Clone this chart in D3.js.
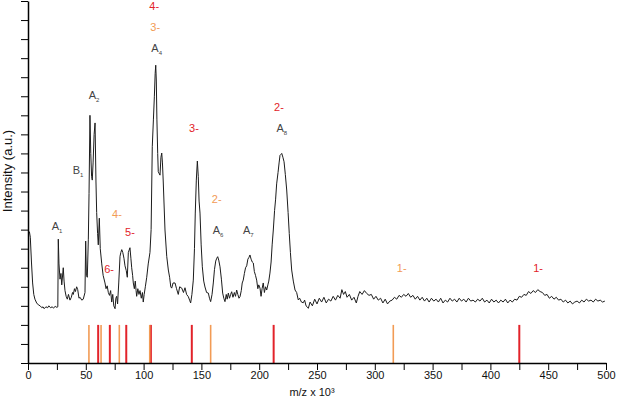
<!DOCTYPE html>
<html>
<head>
<meta charset="utf-8">
<script src="https://cdn.jsdelivr.net/npm/d3@7"></script>
<style>
  body { margin: 0; background: #fff; }
  svg { display: block; font-family: "Liberation Sans", Arial, sans-serif; }
  .axis path, .axis line { stroke: #000; }
  .axis text { font-size: 11px; fill: #111; font-family: "Liberation Sans", Arial, sans-serif; }
</style>
</head>
<body>
<svg id="chart"></svg>
<script>
// spectrum, [m/z x 10^3, intensity in tick units]
var spectrum = [
  [1.2, 6.9], [2.0, 6.6], [3.0, 5.3], [4.0, 4.2], [5.0, 3.6], [6.0, 3.35], [7.5, 3.15], [9.0, 3.05],
  [10.5, 3.0], [12, 2.9], [13, 2.95], [14, 2.85], [15.5, 2.95], [17, 2.9], [18, 3.0], [19.5, 2.9],
  [21, 2.95], [22, 2.88], [23.5, 2.97], [25, 2.92], [25.8, 2.95],
  [26.2, 6.5], [26.8, 5.2], [27.7, 4.4], [28.5, 4.7], [29.2, 4.1], [30.5, 5.0], [31.2, 4.3], [32.0, 3.8],
  [33.0, 3.5], [34, 3.35], [35, 3.6], [36.3, 3.3], [37.5, 3.45], [38.5, 3.7], [39.2, 3.6], [40.2, 3.9],
  [41, 3.75], [42.1, 4.0], [43, 3.85], [44.1, 3.4], [45, 3.45], [46.5, 3.3], [47.8, 3.35], [49.3, 3.7],
  [49.9, 6.4], [50.5, 4.6], [51.3, 4.5], [52.2, 6.5], [52.8, 8.9], [53.6, 13.0], [54.3, 11.0], [55.0, 9.8],
  [55.6, 9.6], [56.3, 10.5], [57.2, 12.0], [58.0, 12.6], [58.8, 9.5], [59.4, 7.9], [60.2, 6.8], [60.8, 6.2],
  [61.7, 7.6], [62.5, 6.0], [63.8, 5.2], [65, 4.6], [66.6, 4.2], [67.5, 3.9], [68.5, 4.05], [69.5, 3.7],
  [70.5, 3.55], [71.5, 3.8], [72.4, 3.2], [73.3, 3.6], [74.2, 3.0], [75.3, 2.85], [76.0, 3.4], [76.7, 3.5],
  [77.5, 3.1], [78.5, 4.2], [79.6, 5.6], [80.3, 5.8], [81.1, 5.95], [82, 5.8], [83.0, 5.5], [83.9, 5.1],
  [85.0, 4.85], [85.9, 4.5], [86.8, 5.8], [88.2, 6.05], [89.0, 5.5], [89.7, 5.0], [90.5, 4.6], [91.1, 4.2],
  [92, 3.9], [92.8, 4.3], [93.5, 3.8], [94.0, 3.5], [95, 3.9], [96, 3.6], [96.9, 3.8], [98, 3.4],
  [99, 3.7], [99.7, 3.2], [100.5, 3.6], [101.5, 4.0], [102.7, 4.5], [104, 5.2], [105.5, 5.8], [106.5, 7.0],
  [107.5, 11.35], [108.5, 12.8], [109.3, 13.97], [110.0, 15.2], [110.5, 15.63], [111.0, 14.8], [111.5, 12.8],
  [112.2, 11.0], [112.7, 10.04], [114.2, 9.86], [115.0, 10.8], [115.7, 11.02], [116.3, 10.5], [117.0, 9.5],
  [118.5, 6.98], [120, 5.6], [121.4, 4.88], [122.5, 4.5], [123.5, 4.0], [124.3, 3.93], [125.5, 4.2],
  [127.2, 4.2], [128.5, 3.9], [130.0, 3.6], [131.2, 4.0], [133.0, 3.93], [134.5, 3.7], [135.8, 3.95],
  [137.2, 3.6], [138.7, 3.48], [139.8, 3.3], [140.7, 3.15], [141.8, 3.6], [143.0, 4.35], [144.0, 6.0],
  [144.7, 7.87], [145.6, 9.6], [146.5, 10.6], [147.3, 9.8], [148.0, 8.5], [148.8, 7.87], [149.8, 6.2],
  [150.8, 5.05], [152, 4.3], [153.1, 3.99], [154.5, 3.7], [156.0, 3.67], [157.0, 3.4], [158.0, 3.22],
  [159.2, 3.6], [160.3, 4.2], [161.3, 4.9], [162.4, 5.35], [163.3, 5.5], [164.1, 5.58], [165.0, 5.4],
  [166.1, 5.05], [167.3, 4.4], [168.4, 3.67], [169.4, 3.4], [170.4, 3.22], [171.5, 3.6], [172.3, 3.35],
  [173.3, 3.67], [174.3, 3.4], [175.3, 3.6], [176.2, 3.74], [177.3, 3.45], [178.5, 3.7], [179.5, 3.5],
  [180.5, 3.83], [181.5, 3.6], [182.5, 3.4], [183.4, 3.48], [184.5, 3.8], [185.3, 4.2], [186.2, 4.35],
  [187.2, 4.7], [188.2, 5.0], [189.2, 5.1], [190.2, 5.45], [191.2, 5.55], [192.0, 5.67], [193.0, 5.45],
  [194.0, 5.3], [194.9, 5.25], [195.8, 4.8], [196.8, 4.6], [197.8, 4.35], [198.8, 3.9], [199.6, 4.1],
  [200.7, 3.93], [201.6, 3.5], [202.5, 3.9], [203.5, 4.2], [204.5, 3.7], [205.5, 4.0], [206.5, 3.83],
  [207.5, 4.1], [208.3, 4.3], [209.3, 4.72], [210.3, 5.3], [211.2, 6.2], [212.2, 6.98], [213.3, 8.0],
  [214.2, 8.6], [215.1, 9.4], [216.3, 10.0], [217.2, 10.5], [218.0, 10.9], [218.8, 10.95], [219.5, 11.0],
  [220.5, 10.8], [221.5, 10.56], [222.6, 9.9], [223.8, 9.08], [225.0, 7.9], [226.0, 6.8], [227.0, 5.8],
  [228.1, 4.88], [229.5, 4.3], [231.0, 3.83], [232.4, 3.7], [233.8, 3.31], [235.0, 3.4], [236.5, 3.2],
  [238.1, 3.16], [239.3, 3.3], [240.5, 3.0], [241.5, 2.95], [242.5, 2.87],
  [244, 3.2], [246, 3.0], [248, 3.35], [250, 3.1], [252, 3.4], [254, 3.2], [256, 3.45], [258, 3.15],
  [260, 3.35], [262, 3.25], [264, 3.5], [266, 3.3], [268, 3.55], [270, 3.4], [271.5, 3.85], [273, 3.6],
  [274.5, 3.75], [276, 3.45], [278, 3.6], [280, 3.3], [282, 3.45], [284, 3.15], [285.5, 3.5], [287, 3.75],
  [289, 3.6], [291, 3.8], [293, 3.65], [295, 3.55], [297, 3.6], [299, 3.35], [301, 3.5], [303, 3.3],
  [305, 3.4], [307, 3.15], [309, 3.35], [311, 3.1], [313, 3.25], [315, 3.3], [317, 3.45], [319, 3.35],
  [321, 3.55], [323, 3.45], [325, 3.6], [327, 3.5], [329, 3.65], [331, 3.45], [333, 3.55], [335, 3.35],
  [337, 3.5], [339, 3.3], [341, 3.45], [343, 3.25], [345, 3.4], [347, 3.2], [349, 3.4], [351, 3.25],
  [353, 3.35], [355, 3.2], [357, 3.4], [359, 3.15], [361, 3.3], [363, 3.2], [365, 3.4], [367, 3.25],
  [369, 3.35], [371, 3.2], [373, 3.4], [375, 3.25], [377, 3.35], [379, 3.2], [381, 3.4], [383, 3.25],
  [385, 3.3], [387, 3.2], [389, 3.35], [391, 3.25], [393, 3.4], [395, 3.2], [397, 3.3], [399, 3.15],
  [401, 3.35], [403, 3.2], [405, 3.3], [407, 3.15], [409, 3.3], [411, 3.2], [413, 3.35], [415, 3.15],
  [417, 3.3], [419, 3.2], [421, 3.35], [423, 3.3], [425, 3.5], [427, 3.45], [429, 3.6], [431, 3.55],
  [433, 3.75], [435, 3.65], [437, 3.8], [439, 3.7], [441, 3.85], [443, 3.75], [445, 3.7], [447, 3.55],
  [449, 3.6], [451, 3.4], [453, 3.5], [455, 3.35], [457, 3.45], [459, 3.3], [461, 3.35], [463, 3.2],
  [465, 3.3], [467, 3.15], [469, 3.25], [471, 3.1], [473, 3.2], [475, 3.25], [477, 3.15], [479, 3.3],
  [481, 3.2], [483, 3.35], [485, 3.25], [487, 3.3], [489, 3.2], [491, 3.35], [493, 3.25], [495, 3.3],
  [497, 3.2], [499, 3.25]
];

// calculated charge-state positions (m/z x 10^3)
var redSticks = [425, 212.5, 141.7, 106.3, 85, 70.8, 60.7];
var orangeSticks = [316, 158, 105.3, 79, 63.2, 52.7];
var stickHeight = 2;

// peak names: [letter, subscript, m/z, intensity]
var peakNames = [
  ["A", "1", 25.1, 7.0],
  ["B", "1", 43.3, 9.9],
  ["A", "2", 57.1, 13.85],
  ["A", "4", 111.3, 16.3],
  ["A", "6", 164.4, 6.75],
  ["A", "7", 190.6, 6.77],
  ["A", "8", 219.5, 12.1]
];

// charge labels: [text, series, m/z, intensity]
var chargeLabels = [
  ["4-", "red", 109.2, 18.55],
  ["3-", "orange", 110.0, 17.45],
  ["4-", "orange", 77.0, 7.6],
  ["5-", "red", 88.2, 6.65],
  ["6-", "red", 70.1, 4.7],
  ["3-", "red", 143.6, 12.1],
  ["2-", "orange", 163.2, 8.4],
  ["2-", "red", 217.1, 13.25],
  ["1-", "orange", 323.3, 4.8],
  ["1-", "red", 441.2, 4.8]
];

var xTickValues = [0, 25, 50, 75, 100, 125, 150, 175, 200, 225, 250, 275, 300, 325, 350, 375, 400, 425, 450, 475, 500];
var yTickValues = [0, 1, 2, 3, 4, 5, 6, 7, 8, 9, 10, 11, 12, 13, 14, 15, 16, 17, 18, 19];

var colors = { red: "#e2232a", orange: "#f29b55" };

var W = 617, H = 398;
var svg = d3.select("#chart").attr("width", W).attr("height", H);

var x = d3.scaleLinear().domain([0, 500]).range([28, 606]);
var y = d3.scaleLinear().domain([0, 19]).range([363, 1]);

// sticks
svg.append("g").selectAll("line.red")
  .data(redSticks).enter().append("line")
  .attr("x1", d => x(d)).attr("x2", d => x(d))
  .attr("y1", y(0)).attr("y2", y(stickHeight))
  .attr("stroke", colors.red).attr("stroke-width", 2);

svg.append("g").selectAll("line.orange")
  .data(orangeSticks).enter().append("line")
  .attr("x1", d => x(d)).attr("x2", d => x(d))
  .attr("y1", y(0)).attr("y2", y(stickHeight))
  .attr("stroke", colors.orange).attr("stroke-width", 1.6);

// spectrum
var line = d3.line()
  .x(function (d) { return x(d[0]); })
  .y(function (d) { return y(d[1]); });

svg.append("path")
  .datum(spectrum)
  .attr("d", line)
  .attr("fill", "none")
  .attr("stroke", "#1c1c1c")
  .attr("stroke-width", 1)
  .attr("stroke-linejoin", "round");

// axes
var xAxis = svg.append("g")
  .attr("class", "axis")
  .attr("transform", "translate(0," + y(0) + ")")
  .call(d3.axisBottom(x)
    .tickValues(xTickValues)
    .tickSize(7)
    .tickSizeOuter(0)
    .tickFormat(function (d) { return d % 50 === 0 ? d : ""; }));
xAxis.select(".domain").attr("stroke-width", 1.5);
xAxis.selectAll("text").attr("dy", "0.5em").attr("y", 10);

var yAxis = svg.append("g")
  .attr("class", "axis")
  .attr("transform", "translate(" + x(0) + ",0)")
  .call(d3.axisLeft(y)
    .tickValues(yTickValues)
    .tickSize(7)
    .tickSizeOuter(0)
    .tickFormat(""));
yAxis.select(".domain").attr("stroke-width", 1.5);

// axis titles
svg.append("text")
  .attr("x", 312).attr("y", 396)
  .attr("text-anchor", "middle")
  .style("font-size", "11px").style("fill", "#111")
  .text("m/z x 10³");

svg.append("text")
  .attr("transform", "translate(12,171) rotate(-90)")
  .attr("text-anchor", "middle")
  .style("font-size", "13px").style("fill", "#111")
  .text("Intensity (a.u.)");

// peak names with subscripts
var names = svg.append("g").selectAll("text")
  .data(peakNames).enter().append("text")
  .attr("x", d => x(d[2]))
  .attr("y", d => y(d[3]))
  .attr("text-anchor", "middle")
  .style("font-size", "11px")
  .style("fill", "#444");
names.append("tspan").text(d => d[0]);
names.append("tspan")
  .attr("dy", 3)
  .style("font-size", "6px")
  .text(d => d[1]);

// charge state labels
svg.append("g").selectAll("text")
  .data(chargeLabels).enter().append("text")
  .attr("x", d => x(d[2]))
  .attr("y", d => y(d[3]))
  .attr("text-anchor", "middle")
  .style("font-size", "11px")
  .style("fill", d => colors[d[1]])
  .text(d => d[0]);
</script>
</body>
</html>
